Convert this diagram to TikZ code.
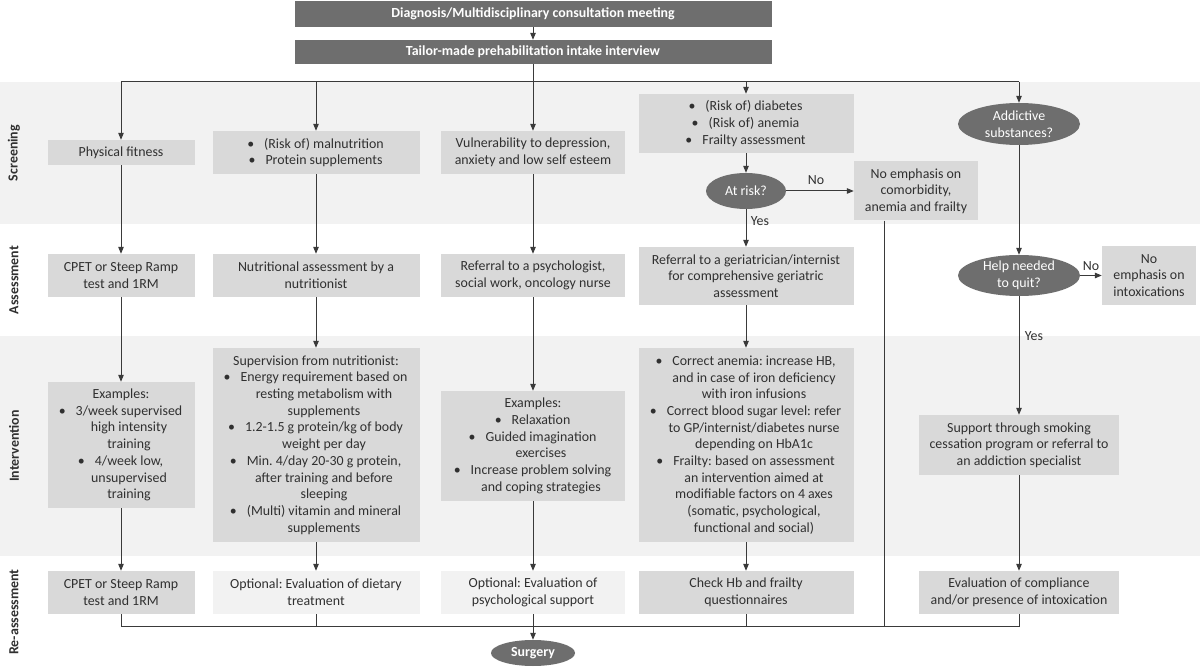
\documentclass[tikz,border=0pt]{standalone}
\usepackage{fontspec}
\setmainfont{Carlito}
\usetikzlibrary{shapes.geometric,arrows.meta}
\definecolor{bandc}{HTML}{F2F2F2}
\definecolor{boxg}{HTML}{D9D9D9}
\definecolor{lightb}{HTML}{F2F2F2}
\definecolor{darkc}{HTML}{6E6E6E}
\definecolor{txt}{HTML}{303030}
\definecolor{lnc}{HTML}{3A3A3A}
\newcommand{\bs}{\hspace*{16pt}}
\newcommand{\bu}{\hspace*{16pt}\llap{\textbullet\hspace{10pt}}}
\frenchspacing
\begin{document}
\frenchspacing
\begin{tikzpicture}[x=1pt,y=-1pt,
  every node/.style={text=txt, font=\fontsize{13.9}{16.7}\selectfont\frenchspacing},
  sz/.style n args={2}{minimum width=#1pt, minimum height=#2pt},
  box/.style={fill=boxg, align=center, inner sep=0pt},
  lbox/.style={box, fill=lightb},
  topbox/.style={fill=darkc, text=white, font=\fontsize{13.9}{16.7}\selectfont\bfseries, inner sep=0pt, minimum width=477pt},
  oval/.style={ellipse, fill=darkc, text=white, align=center, inner sep=0pt},
  lbl/.style={inner sep=1pt},
  side/.style={rotate=90, text=txt, font=\fontsize{13.9}{16.7}\selectfont\bfseries},
  line/.style={draw=lnc, line width=1pt},
  arr/.style={line, -{Triangle[length=7pt,width=5.5pt]}},
]
\useasboundingbox (0,0) rectangle (1200,668);
\fill[white] (0,0) rectangle (1200,668);
\fill[bandc] (0,82) rectangle (1200,224);
\fill[bandc] (0,336) rectangle (1200,556);

% side labels
\node[side] (L1) at (14,153) {Screening};
\node[side] (L2) at (14,280) {Assessment};
\node[side] (L3) at (14,446) {Intervention};
\node[side] (L4) at (14,612) {Re-assessment};

% top
\node[topbox, minimum height=26pt] (t1) at (533,14) {Diagnosis/Multidisciplinary consultation meeting};
\node[topbox, minimum height=24pt] (t2) at (533,52) {Tailor-made prehabilitation intake interview};

% screening
\node[box, sz={147}{25}] (s1) at (121,152.5) {Physical fitness};
\node[box, sz={207}{43}] (s2) at (316,152.5) {\bu (Risk of) malnutrition\\ \bu Protein supplements};
\node[box, sz={184}{43}] (s3) at (533,152.5) {Vulnerability to depression,\\anxiety and low self esteem};
\node[box, sz={215}{59}] (s4) at (746,123.5) {\bu (Risk of) diabetes\\ \bu (Risk of) anemia\\ \bu Frailty assessment};
\node[oval, sz={80}{36}] (atrisk) at (746,191) {At risk?};
\node[box, sz={124}{59}] (noemph) at (916,191) {No emphasis on\\comorbidity,\\anemia and frailty};
\node[oval, sz={122}{42}] (addict) at (1019,124) {Addictive\\substances?};

% assessment
\node[box, sz={147}{43}] (a1) at (121,275.5) {CPET or Steep Ramp\\test and 1RM};
\node[box, sz={207}{43}] (a2) at (316,275.5) {Nutritional assessment by a\\nutritionist};
\node[box, sz={184}{43}] (a3) at (533,275.5) {Referral to a psychologist,\\social work, oncology nurse};
\node[box, sz={215}{58}] (a4) at (746,276) {Referral to a geriatrician/internist\\for comprehensive geriatric\\assessment};
\node[oval, sz={122}{41}] (help) at (1019,275.5) {Help needed\\to quit?};
\node[box, sz={94}{59}] (noint) at (1149,275.5) {No\\emphasis on\\intoxications};

% intervention
\node[box, sz={147}{126}] (i1) at (121,445) {Examples:\\ \bu 3/week supervised\\ \bs high intensity\\ \bs training\\ \bu 4/week low,\\ \bs unsupervised\\ \bs training};
\node[box, sz={207}{194}] (i2) at (316,445) {Supervision from nutritionist:\\ \bu Energy requirement based on\\ \bs resting metabolism with\\ \bs supplements\\ \bu 1.2-1.5 g protein/kg of body\\ \bs weight per day\\ \bu Min. 4/day 20-30 g protein,\\ \bs after training and before\\ \bs sleeping\\ \bu (Multi) vitamin and mineral\\ \bs supplements};
\node[box, sz={184}{110}] (i3) at (533,446) {Examples:\\ \bu Relaxation\\ \bu Guided imagination\\ \bs exercises\\ \bu Increase problem solving\\ \bs and coping strategies};
\node[box, sz={215}{194}] (i4) at (746,445) {\bu Correct anemia: increase HB,\\ \bs and in case of iron deficiency\\ \bs with iron infusions\\ \bu Correct blood sugar level: refer\\ \bs to GP/internist/diabetes nurse\\ \bs depending on HbA1c\\ \bu Frailty: based on assessment\\ \bs an intervention aimed at\\ \bs modifiable factors on 4 axes\\ \bs (somatic, psychological,\\ \bs functional and social)};
\node[box, sz={200}{60}] (i5) at (1019,445) {Support through smoking\\cessation program or referral to\\an addiction specialist};

% re-assessment
\node[box, sz={147}{43}] (r1) at (121,592.5) {CPET or Steep Ramp\\test and 1RM};
\node[lbox, sz={207}{43}] (r2) at (316,592.5) {Optional: Evaluation of dietary\\treatment};
\node[lbox, sz={184}{43}] (r3) at (533,592.5) {Optional: Evaluation of\\psychological support};
\node[box, sz={215}{43}] (r4) at (746,592.5) {Check Hb and frailty\\questionnaires};
\node[box, sz={200}{43}] (r5) at (1019,592.5) {Evaluation of compliance\\and/or presence of intoxication};

\node[oval, sz={84}{26}, font=\fontsize{13.9}{16.7}\selectfont\bfseries] (surgery) at (533,653) {Surgery};

% labels
\node[lbl] (noA) at (816,180) {No};
\node[lbl] (yesA) at (760,221) {Yes};
\node[lbl] (noB) at (1091,266) {No};
\node[lbl] (yesB) at (1034,336) {Yes};

% connectors top
\draw[arr] (t1) -- (t2);
\coordinate (hl) at (121,82);
\coordinate (hr) at (1019,82);
\draw[line] (t2) -- (t2 |- hl);
\draw[line] (hl) -- (hr);
\draw[arr] (hl) -- (s1);
\draw[arr] (s2 |- hl) -- (s2);
\draw[arr] (s3 |- hl) -- (s3);
\draw[arr] (s4 |- hl) -- (s4);
\draw[arr] (hr) -- (addict);

% columns
\draw[arr] (s1) -- (a1);
\draw[arr] (a1) -- (i1);
\draw[arr] (i1) -- (r1);
\draw[arr] (s2) -- (a2);
\draw[arr] (a2) -- (i2);
\draw[arr] (i2) -- (r2);
\draw[arr] (s3) -- (a3);
\draw[arr] (a3) -- (i3);
\draw[arr] (i3) -- (r3);
\draw[arr] (s4) -- (atrisk);
\draw[arr] (atrisk) -- (a4);
\draw[arr] (atrisk) -- (noemph);
\draw[arr] (a4) -- (i4);
\draw[arr] (i4) -- (r4);
\draw[arr] (addict) -- (help);
\draw[arr] (help) -- (noint);
\draw[arr] (help) -- (i5);
\draw[arr] (i5) -- (r5);

% bottom
\coordinate (bl) at (121,626);
\coordinate (br) at (1019,626);
\draw[line] (r1) -- (bl) -- (br) -- (r5);
\draw[line] (r2) -- (r2 |- bl);
\draw[line] (r4) -- (r4 |- bl);
\path (noemph.south) ++(-32,0) coordinate (nes);
\draw[line] (nes) -- (nes |- bl);
\draw[arr] (r3) -- (surgery);
\end{tikzpicture}
\end{document}
